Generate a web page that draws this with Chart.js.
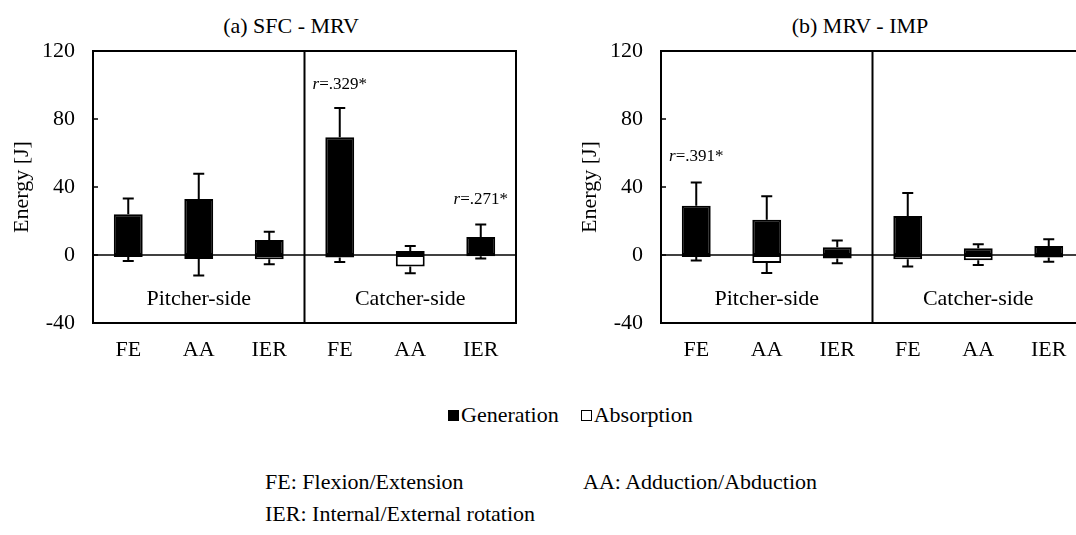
<!DOCTYPE html>
<html>
<head>
<meta charset="utf-8">
<script src="https://cdn.jsdelivr.net/npm/chart.js@4.4.1/dist/chart.umd.min.js"></script>
<style>
  html, body { margin: 0; padding: 0; background: #fff; }
  body { width: 1076px; height: 535px; overflow: hidden; position: relative;
         font-family: "Liberation Serif", "Times New Roman", serif; color: #000; }
  canvas { position: absolute; top: 0; }
  #cA { left: 0; }
  #cB { left: 568px; }
  .ttl { position: absolute; top: 13px; font-size: 22px; line-height: 26px; white-space: nowrap; transform: translateX(-50%); }
  .legend { position: absolute; top: 402px; left: 448px; font-size: 22px; line-height: 26px; white-space: nowrap; }
  .legend .box { display: inline-block; width: 11px; height: 11px; box-sizing: border-box; border: 1.5px solid #000; margin-right: 2px; vertical-align: 1px; }
  .legend .gen { background: #000; }
  .legend .abs { background: #fff; margin-left: 22px; }
  .note { position: absolute; font-size: 22px; line-height: 26px; white-space: nowrap; }
</style>
</head>
<body>
<div class="ttl" style="left:291px">(a) SFC - MRV</div>
<div class="ttl" style="left:860px">(b) MRV - IMP</div>
<canvas id="cA" width="540" height="380"></canvas>
<canvas id="cB" width="540" height="380"></canvas>
<div class="legend"><span class="box gen"></span>Generation<span class="box abs"></span>Absorption</div>
<div class="note" style="left:265px;top:469px">FE: Flexion/Extension</div>
<div class="note" style="left:583px;top:469px">AA: Adduction/Abduction</div>
<div class="note" style="left:265px;top:501px">IER: Internal/External rotation</div>

<script>
const FONT = '"Liberation Serif", "Times New Roman", serif';

const categories = ["FE", "AA", "IER", "FE", "AA", "IER"];
const sides = ["Pitcher-side", "Catcher-side"];
const sideLabelAt = -26;
const yTicks = [-40, 0, 40, 80, 120];

// (a) SFC - MRV
const genA    = [24, 33, 8.8, 69.2, 2.4, 10.6];
const genErrA = [9.3, 14.8, 4.9, 17.3, 2.9, 7.4];
const absA    = [-1.2, -2.4, -2.5, -1.5, -6.8, -0.8];
const absErrA = [2.3, 9.6, 3, 2.6, 4, 1.2];
const noteIdxA = [3, 5];
const noteValA = [100, 32.5];
const noteTxtA = ["=.329*", "=.271*"];

// (b) MRV - IMP
const genB    = [29, 20.8, 4.5, 22.9, 3.9, 5.3];
const genErrB = [13.7, 13.7, 4.1, 13.6, 2.4, 3.9];
const absB    = [-1.2, -4.7, -2, -2.5, -3.1, -1.5];
const absErrB = [2, 5.9, 2.9, 4.3, 2.8, 2.4];
const noteIdxB = [0];
const noteValB = [58];
const noteTxtB = ["=.391*"];

// frame, divider, zero line, inner ticks, error bars, side labels, r-notes
const decor = {
  id: "decor",
  beforeDatasetsDraw(chart) {
    const { ctx, chartArea: a, scales: { y } } = chart;
    ctx.save();
    ctx.strokeStyle = "#000";
    ctx.lineWidth = 1.3;
    ctx.beginPath();
    ctx.moveTo(a.left, y.getPixelForValue(0));
    ctx.lineTo(a.right, y.getPixelForValue(0));
    ctx.stroke();
    ctx.restore();
  },
  afterDatasetsDraw(chart, args, opts) {
    const { ctx, chartArea: a, scales: { x, y } } = chart;
    ctx.save();
    ctx.strokeStyle = "#000";
    ctx.fillStyle = "#000";

    // error bars
    ctx.lineWidth = 2;
    chart.data.datasets.forEach((ds, di) => {
      const meta = chart.getDatasetMeta(di);
      meta.data.forEach((bar, i) => {
        const v = ds.data[i];
        const end = v + ds.dir * ds.err[i];
        const y0 = y.getPixelForValue(v), y1 = y.getPixelForValue(end);
        ctx.beginPath();
        ctx.moveTo(bar.x, y0);
        ctx.lineTo(bar.x, y1);
        ctx.moveTo(bar.x - 5.5, y1);
        ctx.lineTo(bar.x + 5.5, y1);
        ctx.stroke();
      });
    });

    // frame + divider
    ctx.lineWidth = 2;
    ctx.strokeRect(a.left, a.top, a.right - a.left, a.bottom - a.top);
    const xd = (x.getPixelForValue(2) + x.getPixelForValue(3)) / 2;
    ctx.beginPath();
    ctx.moveTo(xd, a.top);
    ctx.lineTo(xd, a.bottom);
    ctx.stroke();

    // inward ticks
    ctx.lineWidth = 1.5;
    yTicks.forEach((v) => {
      const py = y.getPixelForValue(v);
      ctx.beginPath();
      ctx.moveTo(a.left, py);
      ctx.lineTo(a.left + 5, py);
      ctx.stroke();
    });

    // side labels
    ctx.font = `22px ${FONT}`;
    ctx.textAlign = "center";
    ctx.textBaseline = "middle";
    const sy = y.getPixelForValue(sideLabelAt);
    ctx.fillText(sides[0], (x.getPixelForValue(0) + x.getPixelForValue(2)) / 2, sy);
    ctx.fillText(sides[1], (x.getPixelForValue(3) + x.getPixelForValue(5)) / 2, sy);

    // correlation notes: italic r + rest
    ctx.textAlign = "left";
    opts.idx.forEach((ci, k) => {
      const cx = x.getPixelForValue(ci), cy = y.getPixelForValue(opts.val[k]);
      ctx.font = `italic 17px ${FONT}`;
      const wr = ctx.measureText("r").width;
      ctx.font = `17px ${FONT}`;
      const wt = ctx.measureText(opts.txt[k]).width;
      const x0 = cx - (wr + wt) / 2;
      ctx.font = `italic 17px ${FONT}`;
      ctx.fillText("r", x0, cy);
      ctx.font = `17px ${FONT}`;
      ctx.fillText(opts.txt[k], x0 + wr, cy);
    });
    ctx.restore();
  }
};

function makeChart(id, gen, genErr, abs, absErr, idx, val, txt) {
  return new Chart(document.getElementById(id), {
    type: "bar",
    data: {
      labels: categories,
      datasets: [
        { label: "Generation", data: gen, err: genErr, dir: 1,
          backgroundColor: "#000", borderColor: "#000", borderWidth: 2, borderSkipped: false },
        { label: "Absorption", data: abs, err: absErr, dir: -1,
          backgroundColor: "#fff", borderColor: "#000", borderWidth: 2, borderSkipped: false }
      ]
    },
    options: {
      responsive: false,
      animation: false,
      events: [],
      layout: { padding: { top: 51, right: 24, left: 0, bottom: 0 } },
      datasets: { bar: { barPercentage: 0.41, categoryPercentage: 1 } },
      plugins: {
        legend: { display: false },
        tooltip: { enabled: false },
        decor: { idx, val, txt }
      },
      scales: {
        x: {
          stacked: true,
          grid: { display: false, drawTicks: false },
          border: { display: false },
          ticks: { color: "#000", font: { family: FONT, size: 22 }, padding: 14, maxRotation: 0, autoSkip: false },
          afterFit: (s) => { s.height = 57; }
        },
        y: {
          stacked: true,
          min: -40, max: 120,
          afterBuildTicks: (s) => { s.ticks = yTicks.map((v) => ({ value: v })); },
          grid: { display: false, drawTicks: false },
          border: { display: false },
          ticks: { color: "#000", font: { family: FONT, size: 22 }, padding: 18 },
          title: { display: true, text: "Energy [J]", color: "#000", font: { family: FONT, size: 22 }, padding: { top: 9, bottom: 0 } },
          afterFit: (s) => { s.width = 93; }
        }
      }
    },
    plugins: [decor]
  });
}

makeChart("cA", genA, genErrA, absA, absErrA, noteIdxA, noteValA, noteTxtA);
makeChart("cB", genB, genErrB, absB, absErrB, noteIdxB, noteValB, noteTxtB);
</script>
</body>
</html>
